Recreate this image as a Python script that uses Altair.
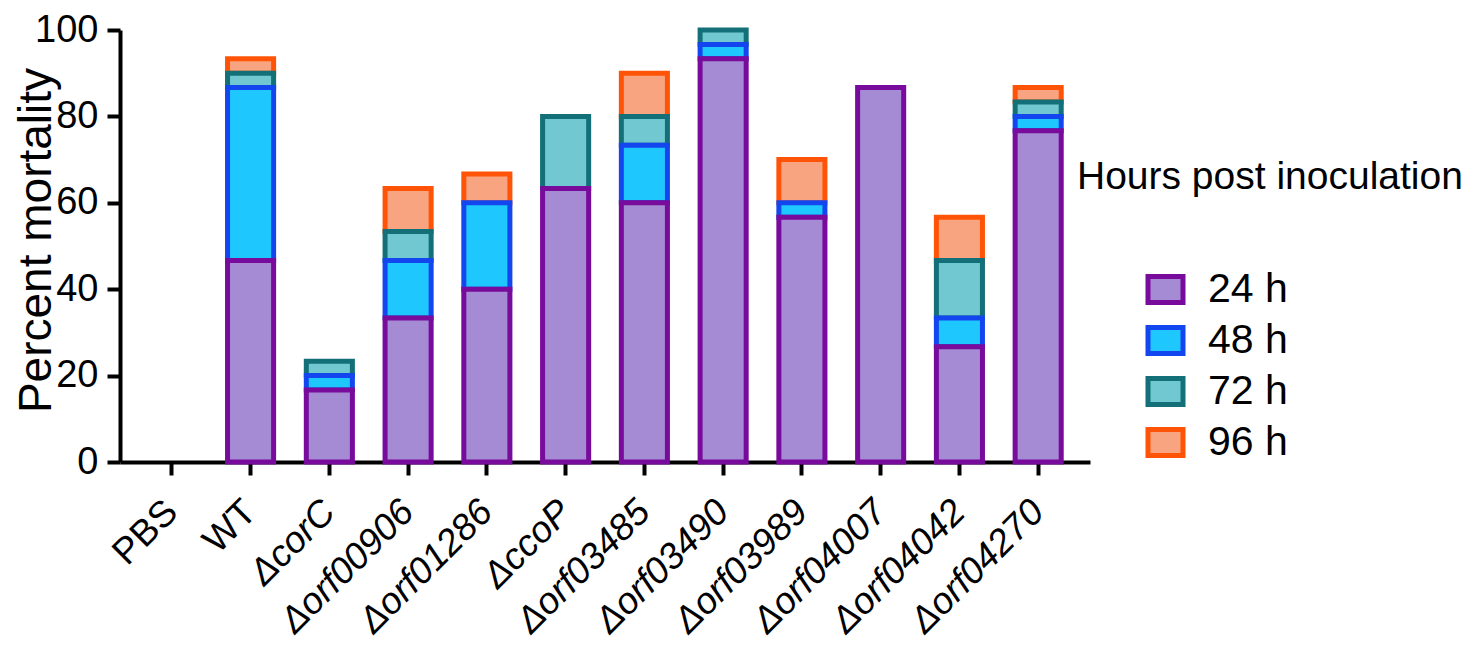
import altair as alt
import pandas as pd

categories = ["PBS", "WT", "ΔcorC", "Δorf00906", "Δorf01286", "ΔccoP",
              "Δorf03485", "Δorf03490", "Δorf03989", "Δorf04007", "Δorf04042", "Δorf04270"]
series = ["24 h", "48 h", "72 h", "96 h"]
h24 = [0, 46.67, 16.67, 33.33, 40.0, 63.33, 60.0, 93.33, 56.67, 86.67, 26.67, 76.67]
h48 = [0, 40.0, 3.33, 13.33, 20.0, 0, 13.33, 3.33, 3.33, 0, 6.67, 3.33]
h72 = [0, 3.33, 3.33, 6.67, 0, 16.67, 6.67, 3.34, 0, 0, 13.33, 3.33]
h96 = [0, 3.33, 0, 10.0, 6.67, 0, 10.0, 0, 10.0, 0, 10.0, 3.34]
y_ticks = [0, 20, 40, 60, 80, 100]

fills = ["#A48BD3", "#1EC8FF", "#72C8D0", "#F8A481"]
strokes = ["#780A9C", "#1446F0", "#137078", "#FF5408"]

rows = []
for si, (s, vals) in enumerate(zip(series, [h24, h48, h72, h96])):
    for c, v in zip(categories, vals):
        rows.append({"cat": c, "hours": s, "order": si, "value": v})
df = pd.DataFrame(rows)

FONT = "Liberation Sans"

legend = alt.Legend(
    title="Hours post inoculation", orient="none", legendX=957, legendY=128,
    titleFontSize=39, titleFont=FONT, titleFontWeight="normal", titleColor="black",
    titlePadding=72, titleLimit=600, titleAnchor="start",
    labelFontSize=41, labelFont=FONT, labelColor="black",
    symbolType="M-1,-0.74L1,-0.74L1,0.74L-1,0.74Z", symbolSize=1225,
    symbolStrokeWidth=5, symbolOffset=68, labelOffset=22, rowPadding=4,
    direction="vertical",
)

x = alt.X("cat:N", sort=categories, title=None,
          scale=alt.Scale(domain=categories, paddingInner=0.415, paddingOuter=0.3655),
          axis=alt.Axis(labelAngle=-45, labelAlign="right", labelBaseline="middle",
                        labelFontSize=37, labelPadding=31, labelLimit=400,
                        labelFontStyle=alt.ExprRef("indexof(datum.label, 'Δ') == 0 ? 'italic' : 'normal'")))
y = alt.Y("y1:Q", scale=alt.Scale(domain=[0, 100], nice=False),
          axis=alt.Axis(values=y_ticks, title="Percent mortality", titleFontSize=46,
                        titleFontWeight="normal", titleX=-84, titleY=210, titleAngle=-90,
                        titleBaseline="middle", titleAlign="center",
                        labelFontSize=38, labelPadding=9))
fill = alt.Fill("hours:N", scale=alt.Scale(domain=series, range=fills), legend=legend)
stroke = alt.Stroke("hours:N", scale=alt.Scale(domain=series, range=strokes), legend=legend)

base = (alt.Chart(df)
        .transform_filter("datum.value > 0")
        .transform_stack(stack="value", groupby=["cat"], as_=["y0", "y1"],
                         sort=[alt.SortField("order", order="ascending")]))

layers = []
for s in reversed(series):
    layers.append(
        base.transform_filter(alt.datum.hours == s)
        .mark_bar(strokeWidth=5, strokeJoin="miter")
        .encode(x=x, y=y, y2="y0:Q", fill=fill, stroke=stroke)
    )

chart = (alt.layer(*layers)
         .properties(width=970, height=432,
                     padding={"left": 112, "top": 22, "right": 378, "bottom": 181},
                     autosize=alt.AutoSizeParams(type="none"))
         .configure_axis(domainColor="black", domainWidth=4, tickColor="black", tickWidth=4,
                         tickSize=13, labelFont=FONT, titleFont=FONT, labelColor="black",
                         titleColor="black", grid=False)
         .configure_view(stroke=None))

chart.save("out.html", embed_options={"renderer": "svg", "actions": False})
